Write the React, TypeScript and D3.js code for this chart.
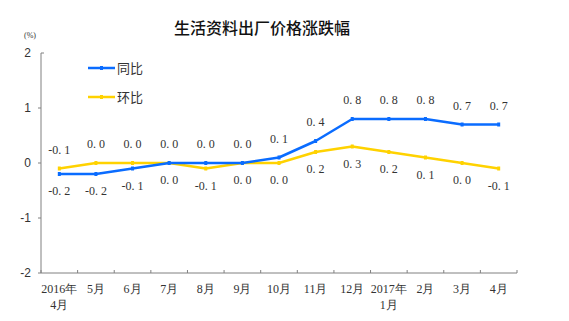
import React from "react";
import * as d3 from "d3";

const categories = ["2016年\n4月", "5月", "6月", "7月", "8月", "9月", "10月", "11月", "12月", "2017年\n1月", "2月", "3月", "4月"];
const yoy = [-0.2, -0.2, -0.1, 0.0, 0.0, 0.0, 0.1, 0.4, 0.8, 0.8, 0.8, 0.7, 0.7];
const mom = [-0.1, 0.0, 0.0, 0.0, -0.1, 0.0, 0.0, 0.2, 0.3, 0.2, 0.1, 0.0, -0.1];
const yTicks = [-2, -1, 0, 1, 2];
const seriesNames = ["同比", "环比"];

const W = 569, H = 321;
const BLUE = "#0a6cff";
const YELLOW = "#ffd200";
const AXIS = "#808080";
const TXT = "#333";
const NUMFONT = "'SimSun','Liberation Serif','DejaVu Serif',serif";
const CJK = "'Noto Sans CJK SC','Noto Sans',sans-serif";

export default function App() {
  const x = d3.scaleBand<number>().domain(d3.range(categories.length)).range([41, 517]);
  const y = d3.scaleLinear().domain([-2, 2]).range([273, 53]);
  const cx = (i: number) => (x(i) as number) + x.bandwidth() / 2;
  const line = d3.line<number>().x((_, i) => cx(i)).y((d) => y(d));
  const fmt = (v: number) => v.toFixed(1).replace(".", ". ");

  // 同比 above from 8月 on; 环比 above before that
  const yoyAbove = (i: number) => i >= 4;

  const series = [
    { name: seriesNames[0], data: yoy, color: BLUE, above: (i: number) => yoyAbove(i) },
    { name: seriesNames[1], data: mom, color: YELLOW, above: (i: number) => !yoyAbove(i) },
  ];

  return (
    <svg width={W} height={H} style={{ display: "block", position: "absolute", left: 0, top: 0 }}>
      <rect width={W} height={H} fill="#fff" />
      <text x={262} y={34} textAnchor="middle" fontFamily={CJK} fontSize={16} fill="#111" fontWeight={500}>
        生活资料出厂价格涨跌幅
      </text>
      <text x={24} y={38} fontFamily={NUMFONT} fontSize={8} fill={TXT}>(%)</text>

      {/* y axis */}
      <line x1={41} x2={41} y1={y(2)} y2={y(-2)} stroke={AXIS} strokeWidth={1} />
      {yTicks.map((t) => (
        <g key={t}>
          <line x1={t === 2 ? 41 : 38} x2={t === 2 ? 44 : 41} y1={y(t)} y2={y(t)} stroke={AXIS} />
          <text x={31} y={y(t) + 4} textAnchor="end" fontFamily={"'Liberation Sans','DejaVu Sans',sans-serif"} fontSize={12} fill={TXT}>
            {t < 0 ? "-" + Math.abs(t) : t}
          </text>
        </g>
      ))}

      {/* x axis */}
      <line x1={41} x2={517} y1={273} y2={273} stroke={AXIS} />
      {d3.range(categories.length + 1).map((i) => {
        const xx = i < categories.length ? (x(i) as number) : 517;
        return <line key={i} x1={xx} x2={xx} y1={270} y2={273} stroke={AXIS} />;
      })}
      {categories.map((c, i) => (
        <text key={c} textAnchor="middle" fontFamily={NUMFONT} fontSize={12} fill={TXT}>
          {c.split("\n").map((s, k) => (
            <tspan key={k} x={cx(i)} y={293 + k * 16}>{s}</tspan>
          ))}
        </text>
      ))}

      {/* series */}
      {[...series].reverse().map((s) => (
        <g key={s.name}>
          <path d={line(s.data) || ""} fill="none" stroke={s.color} strokeWidth={2.5} strokeLinejoin="round" />
          {s.data.map((v, i) => (
            <rect key={i} x={cx(i) - 1.5} y={y(v) - 2} width={3} height={4} fill={s.color} />
          ))}
        </g>
      ))}
      {series.map((s) =>
        s.data.map((v, i) => {
          const ab = s.above(i);
          return (
            <text key={s.name + i} x={cx(i)} y={y(v) + (ab ? -19 : 17) + 4} textAnchor="middle" fontFamily={NUMFONT} fontSize={12} fill={TXT}>
              {fmt(v)}
            </text>
          );
        })
      )}

      {/* legend */}
      {series.map((s, k) => (
        <g key={s.name}>
          <line x1={88} x2={115} y1={68 + k * 29} y2={68 + k * 29} stroke={s.color} strokeWidth={2.5} />
          <rect x={100} y={66 + k * 29} width={3} height={4} fill={s.color} />
          <text x={117} y={72.5 + k * 29} fontFamily={CJK} fontSize={13} fill={TXT}>{s.name}</text>
        </g>
      ))}
    </svg>
  );
}
